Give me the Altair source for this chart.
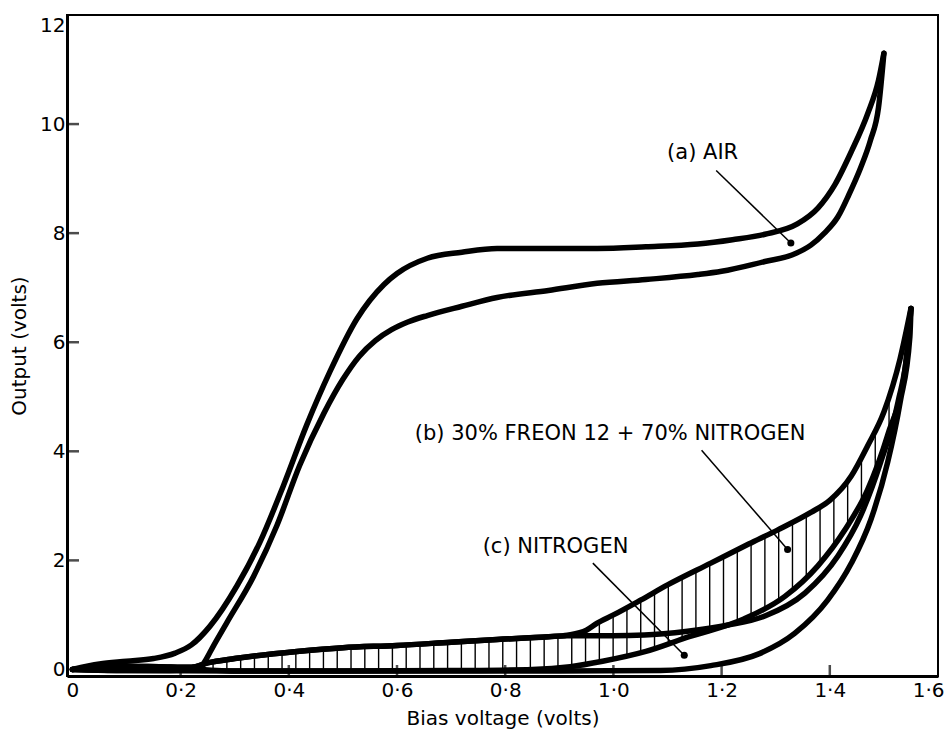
import altair as alt
import numpy as np
import pandas as pd

# ---- loop branches (bias voltage in volts, output in volts) ----
air_up_x = [0.0, 0.05, 0.10, 0.15, 0.19, 0.22, 0.254, 0.304, 0.346, 0.39, 0.433, 0.476,
            0.526, 0.576, 0.60, 0.656, 0.72, 0.785, 0.90, 0.97, 1.06, 1.156, 1.22, 1.28,
            1.34, 1.378, 1.41, 1.44, 1.47, 1.49, 1.50]
air_up_y = [0.0, 0.10, 0.15, 0.20, 0.30, 0.45, 0.79, 1.53, 2.32, 3.37, 4.48, 5.46,
            6.43, 7.06, 7.26, 7.54, 7.65, 7.72, 7.72, 7.72, 7.75, 7.80, 7.88, 7.98,
            8.17, 8.46, 8.90, 9.50, 10.19, 10.80, 11.30]

air_dn_x = [1.50, 1.49, 1.475, 1.457, 1.435, 1.415, 1.39, 1.365, 1.33, 1.28, 1.20, 1.156,
            1.06, 0.97, 0.88, 0.785, 0.72, 0.656, 0.62, 0.59, 0.56, 0.53, 0.50, 0.465,
            0.42, 0.378, 0.335, 0.285, 0.26, 0.245, 0.235, 0.18, 0.08, 0.0]
air_dn_y = [11.30, 10.30, 9.70, 9.20, 8.70, 8.30, 8.00, 7.78, 7.60, 7.48, 7.30, 7.24,
            7.15, 7.08, 6.95, 6.82, 6.66, 6.49, 6.37, 6.23, 6.03, 5.74, 5.32, 4.70,
            3.74, 2.64, 1.71, 0.85, 0.42, 0.15, 0.02, -0.02, -0.02, 0.0]

freon_up_x = [0.0, 0.08, 0.16, 0.22, 0.25, 0.30, 0.415, 0.50, 0.60, 0.70, 0.785, 0.88,
              0.915, 0.95, 0.97, 1.00, 1.05, 1.10, 1.18, 1.25, 1.304, 1.365, 1.40, 1.44,
              1.47, 1.50, 1.53, 1.55]
freon_up_y = [0.0, 0.06, 0.05, 0.04, 0.12, 0.20, 0.33, 0.40, 0.44, 0.50, 0.55, 0.60,
              0.63, 0.72, 0.85, 1.00, 1.27, 1.55, 1.95, 2.30, 2.56, 2.88, 3.10, 3.55,
              4.10, 4.72, 5.70, 6.62]

freon_dn_x = [1.55, 1.539, 1.507, 1.47, 1.428, 1.378, 1.317, 1.24, 1.14, 1.06, 0.98, 0.92,
              0.85, 0.70, 0.50, 0.30, 0.22]
freon_dn_y = [6.62, 5.50, 4.30, 3.30, 2.56, 1.90, 1.34, 0.92, 0.60, 0.33, 0.15, 0.05,
              0.0, -0.02, -0.03, -0.03, 0.02]

n2_up_x = [0.0, 0.08, 0.16, 0.22, 0.25, 0.30, 0.415, 0.50, 0.60, 0.70, 0.785, 0.88,
           0.915, 0.95, 1.00, 1.057, 1.137, 1.21, 1.28, 1.354, 1.415, 1.457, 1.494,
           1.526, 1.545, 1.55]
n2_up_y = [0.0, 0.06, 0.05, 0.04, 0.12, 0.20, 0.33, 0.40, 0.44, 0.50, 0.55, 0.60,
           0.62, 0.62, 0.62, 0.63, 0.70, 0.81, 0.98, 1.40, 2.08, 2.82, 3.80,
           4.90, 6.00, 6.62]

n2_dn_x = [1.55, 1.548, 1.53, 1.507, 1.476, 1.44, 1.396, 1.335, 1.27, 1.18, 1.087,
           0.90, 0.60, 0.30, 0.10, 0.0]
n2_dn_y = [6.62, 6.10, 4.90, 3.80, 2.75, 1.95, 1.27, 0.66, 0.29, 0.07, -0.02,
           -0.03, -0.03, -0.03, -0.02, 0.0]

# ---- axes ----
x_ticks = [0.0, 0.2, 0.4, 0.6, 0.8, 1.0, 1.2, 1.4, 1.6]
x_tick_labels = ["0", "0·2", "0·4", "0·6", "0·8", "1·0", "1·2", "1·4", "1·6"]
y_ticks = [0, 2, 4, 6, 8, 10, 12]
x_min, x_max = -0.01, 1.6
y_min, y_max = -0.12, 12

# ---- annotations: text, leader start, leader end (dot) ----
note_text = ["(a) AIR", "(b) 30% FREON 12 + 70% NITROGEN", "(c) NITROGEN"]
note_x = [1.165, 0.994, 0.893]
note_y = [9.47, 4.31, 2.25]
lead_x0 = [1.19, 1.163, 0.962]
lead_y0 = [9.15, 4.02, 1.95]
lead_x1 = [1.328, 1.322, 1.131]
lead_y1 = [7.82, 2.20, 0.26]

FONT = "DejaVu Sans"
x_scale = alt.Scale(domain=[x_min, x_max], nice=False, zero=False)
y_scale = alt.Scale(domain=[y_min, y_max], nice=False, zero=False)


def branch(name, xs, ys):
    return pd.DataFrame({"curve": name, "i": range(len(xs)), "x": xs, "y": ys})


curves = pd.concat([
    branch("air_up", air_up_x, air_up_y),
    branch("air_dn", air_dn_x, air_dn_y),
    branch("freon_up", freon_up_x, freon_up_y),
    branch("freon_dn", freon_dn_x, freon_dn_y),
    branch("n2_up", n2_up_x, n2_up_y),
    branch("n2_dn", n2_dn_x, n2_dn_y),
], ignore_index=True)

# vertical hatching across the Freon/nitrogen loop
hx = np.arange(0.26, 1.535, 0.0255)
h_top = np.interp(hx, freon_up_x, freon_up_y)
h_bot = np.interp(hx, freon_dn_x[::-1], freon_dn_y[::-1])
keep = h_top > h_bot
hatch = pd.DataFrame({"x": hx[keep], "top": h_top[keep], "bot": h_bot[keep]})

notes = pd.DataFrame({"text": note_text, "x": note_x, "y": note_y})
leaders = pd.DataFrame({"x0": lead_x0, "y0": lead_y0, "x1": lead_x1, "y1": lead_y1})

label_expr = "[" + ",".join(f"'{s}'" for s in x_tick_labels) + "][round(datum.value*5)]"

x_axis = alt.Axis(values=x_ticks, labelExpr=label_expr, ticks=False, grid=False,
                  domainColor="black", domainWidth=3, labelFont=FONT, labelFontSize=20,
                  labelColor="black", labelPadding=4, labelFlush=True, labelFlushOffset=6,
                  labelOverlap=False,
                  title="Bias voltage (volts)", titleFont=FONT, titleFontSize=20,
                  titleFontWeight="normal", titleColor="black", titlePadding=8)
y_axis = alt.Axis(values=y_ticks, format="d", ticks=False, grid=False,
                  domainColor="black", domainWidth=3, labelFont=FONT, labelFontSize=20,
                  labelColor="black", labelPadding=2, labelFlush=True, labelOverlap=False,
                  title="Output (volts)", titleFont=FONT, titleFontSize=20,
                  titleFontWeight="normal", titleColor="black", titlePadding=10)


def X(field):
    return alt.X(field, scale=x_scale, axis=x_axis)


def Y(field):
    return alt.Y(field, scale=y_scale, axis=y_axis)


hatch_layer = alt.Chart(hatch).mark_rule(color="black", strokeWidth=1.4).encode(
    x=X("x:Q"), y=Y("top:Q"), y2="bot:Q",
)

line_layer = alt.Chart(curves).mark_line(
    color="black", strokeWidth=5.5, strokeCap="round", strokeJoin="round",
    interpolate="monotone",
).encode(
    x=X("x:Q"), y=Y("y:Q"), detail="curve:N", order="i:Q",
)

# short inward ticks standing on the axes
xt = pd.DataFrame({"v": x_ticks[1:-1]})
yt = pd.DataFrame({"v": y_ticks[1:-1]})
x_tick_layer = alt.Chart(xt).mark_tick(
    color="black", thickness=2.5, size=11, orient="vertical", yOffset=-5.5,
).encode(
    x=X("v:Q"), y=Y("base:Q"),
).transform_calculate(base=str(y_min))
y_tick_layer = alt.Chart(yt).mark_tick(
    color="black", thickness=2.5, size=12, orient="horizontal", xOffset=6,
).encode(
    y=Y("v:Q"), x=X("base:Q"),
).transform_calculate(base=str(x_min))

leader_layer = alt.Chart(leaders).mark_rule(color="black", strokeWidth=1.5).encode(
    x=X("x0:Q"), y=Y("y0:Q"), x2="x1:Q", y2="y1:Q",
)
dot_layer = alt.Chart(leaders).mark_point(filled=True, color="black", size=50, opacity=1).encode(
    x=X("x1:Q"), y=Y("y1:Q"),
)
text_layer = alt.Chart(notes).mark_text(
    font=FONT, fontSize=21, color="black", align="center", baseline="middle",
).encode(
    x=X("x:Q"), y=Y("y:Q"), text="text:N",
)

chart = alt.layer(
    hatch_layer, line_layer, x_tick_layer, y_tick_layer, leader_layer, dot_layer, text_layer
).properties(
    width=947, height=733,
    autosize=alt.AutoSizeParams(type="fit", contains="padding"),
    padding={"left": 9, "top": 15, "right": 3, "bottom": 5},
    background="white",
).configure_view(stroke="black", strokeWidth=2)

chart.save("out.html", embed_options={"renderer": "svg", "actions": False})
